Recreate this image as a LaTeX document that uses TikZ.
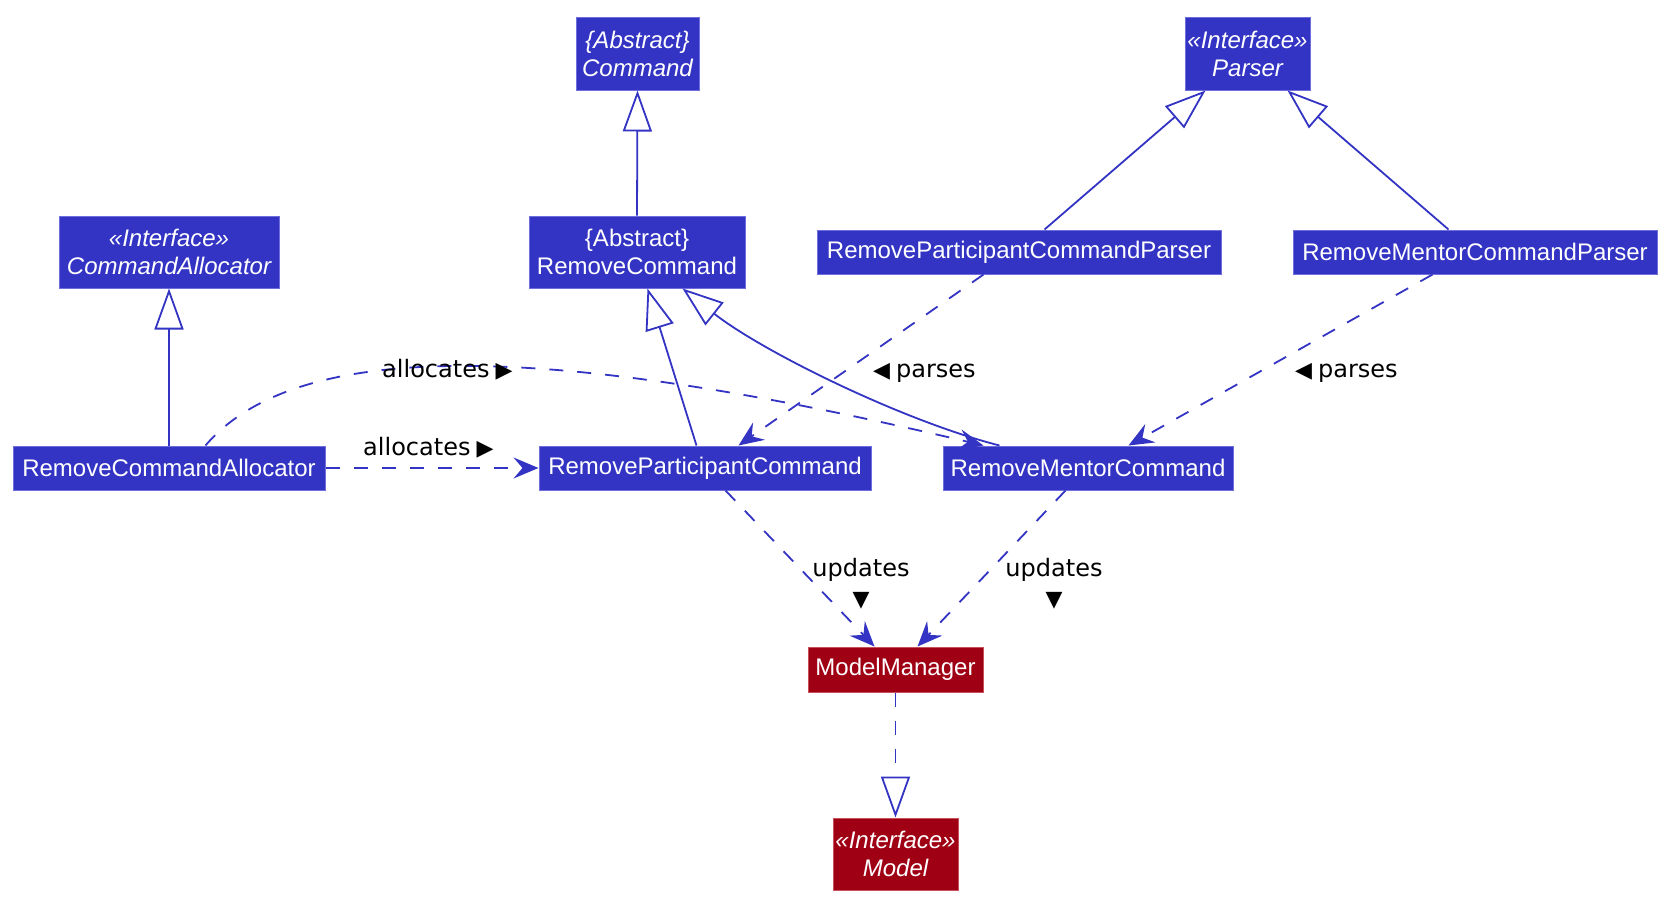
\documentclass[tikz,border=0pt]{standalone}
\usepackage{fontspec}
\setmainfont{Liberation Sans}
\newfontfamily\lblfont{DejaVu Sans}
\usetikzlibrary{arrows.meta,calc}
\definecolor{umlblue}{RGB}{51,51,196}
\definecolor{umlborder}{RGB}{110,110,220}
\definecolor{umlred}{RGB}{160,0,20}
\definecolor{redborder}{RGB}{200,80,90}
\newcommand\trisym[1]{{\lblfont\fontsize{22}{22}\selectfont #1}}
\begin{document}
\begin{tikzpicture}[x=1pt,y=-1pt,
  cls/.style={draw=umlborder, line width=1pt, fill=umlblue, text=white, inner sep=0pt, font=\fontsize{24}{28}\selectfont, align=center},
  icls/.style={cls, font=\fontsize{24}{28}\selectfont\itshape},
  rcls/.style={draw=redborder, fill=umlred},
  conn/.style={draw=umlblue, line width=1.8pt},
  dep/.style={conn, dash pattern=on 14pt off 14pt, -{Stealth[length=25pt,width=21pt,inset=9pt]}},
  inh/.style={conn, -{Triangle[open,length=41pt,width=29pt]}},
  real/.style={inh, dash pattern=on 14pt off 14pt},
  lbl/.style={font=\lblfont\fontsize{24}{30}\selectfont, inner sep=0pt, text=black}
]
\useasboundingbox[fill=white] (0,0) rectangle (1678,911);

% classes
\node[icls, minimum width=123pt, minimum height=73pt] (cmd) at (637.5,53.5) {\{Abstract\}\\Command};
\node[icls, minimum width=125pt, minimum height=73pt] (parser) at (1247.5,53.5) {«Interface»\\Parser};
\node[icls, minimum width=220pt, minimum height=72pt] (ca) at (169,252) {«Interface»\\CommandAllocator};
\node[cls, minimum width=216pt, minimum height=72pt] (rc) at (637,252) {\{Abstract\}\\RemoveCommand};
\node[cls, minimum width=404pt, minimum height=44pt] (rpcp) at (1019,252) {RemoveParticipantCommandParser};
\node[cls, minimum width=364pt, minimum height=44pt] (rmcp) at (1475,252) {RemoveMentorCommandParser};
\node[cls, minimum width=312pt, minimum height=44pt] (rca) at (169,468) {RemoveCommandAllocator};
\node[cls, minimum width=332pt, minimum height=44pt] (rpc) at (705,468) {RemoveParticipantCommand};
\node[cls, minimum width=290pt, minimum height=44pt] (rmc) at (1088,468) {RemoveMentorCommand};
\node[cls, rcls, minimum width=175pt, minimum height=45pt] (mm) at (895.5,669.5) {ModelManager};
\node[icls, rcls, minimum width=125pt, minimum height=72pt] (model) at (895.5,854) {«Interface»\\Model};

% inheritance
\draw[inh] (rc.north) -- (cmd.south);
\draw[inh] (rca.north) -- (ca.south);
\draw[inh] ($(rpc.north west)+(158,0)$) -- ($(rc.south west)+(119,0)$);
\draw[inh] ($(rmc.north west)+(57,0)$) .. controls (900,420) and (760,350) .. ($(rc.south west)+(154,0)$);
\draw[inh] ($(rpcp.north west)+(228,0)$) -- ($(parser.south west)+(21,0)$);
\draw[inh] ($(rmcp.north west)+(156,0)$) -- ($(parser.south west)+(103,0)$);
\draw[real] (mm.south) -- (model.north);

% dependencies
\draw[dep] ($(rca.north west)+(193,0)$) .. controls (300,335) and (560,345) .. ($(rmc.north west)+(41,0)$);
\draw[dep] (rca.east) -- (rpc.west);
\draw[dep] ($(rpcp.south west)+(167,0)$) -- ($(rpc.north west)+(200,0)$);
\draw[dep] ($(rmcp.south west)+(140,0)$) -- ($(rmc.north west)+(186,0)$);
\draw[dep] ($(rpc.south west)+(187,0)$) -- ($(mm.north west)+(67,0)$);
\draw[dep] ($(rmc.south west)+(123,0)$) -- ($(mm.north west)+(110,0)$);

% labels
\node[lbl, anchor=base west] (la1) at (382,377) {allocates\hspace{6pt}\trisym{▶}};
\node[lbl, anchor=base west] (la2) at (363,455) {allocates\hspace{6pt}\trisym{▶}};
\node[lbl, anchor=base west] (lp1) at (873,377) {\trisym{◀}\hspace{6pt}parses};
\node[lbl, anchor=base west] (lp2) at (1295,377) {\trisym{◀}\hspace{6pt}parses};
\node[lbl, anchor=north, align=center] (lu1) at (861,558) {updates\\\trisym{▼}};
\node[lbl, anchor=north, align=center] (lu2) at (1054,558) {updates\\\trisym{▼}};
\end{tikzpicture}
\end{document}
